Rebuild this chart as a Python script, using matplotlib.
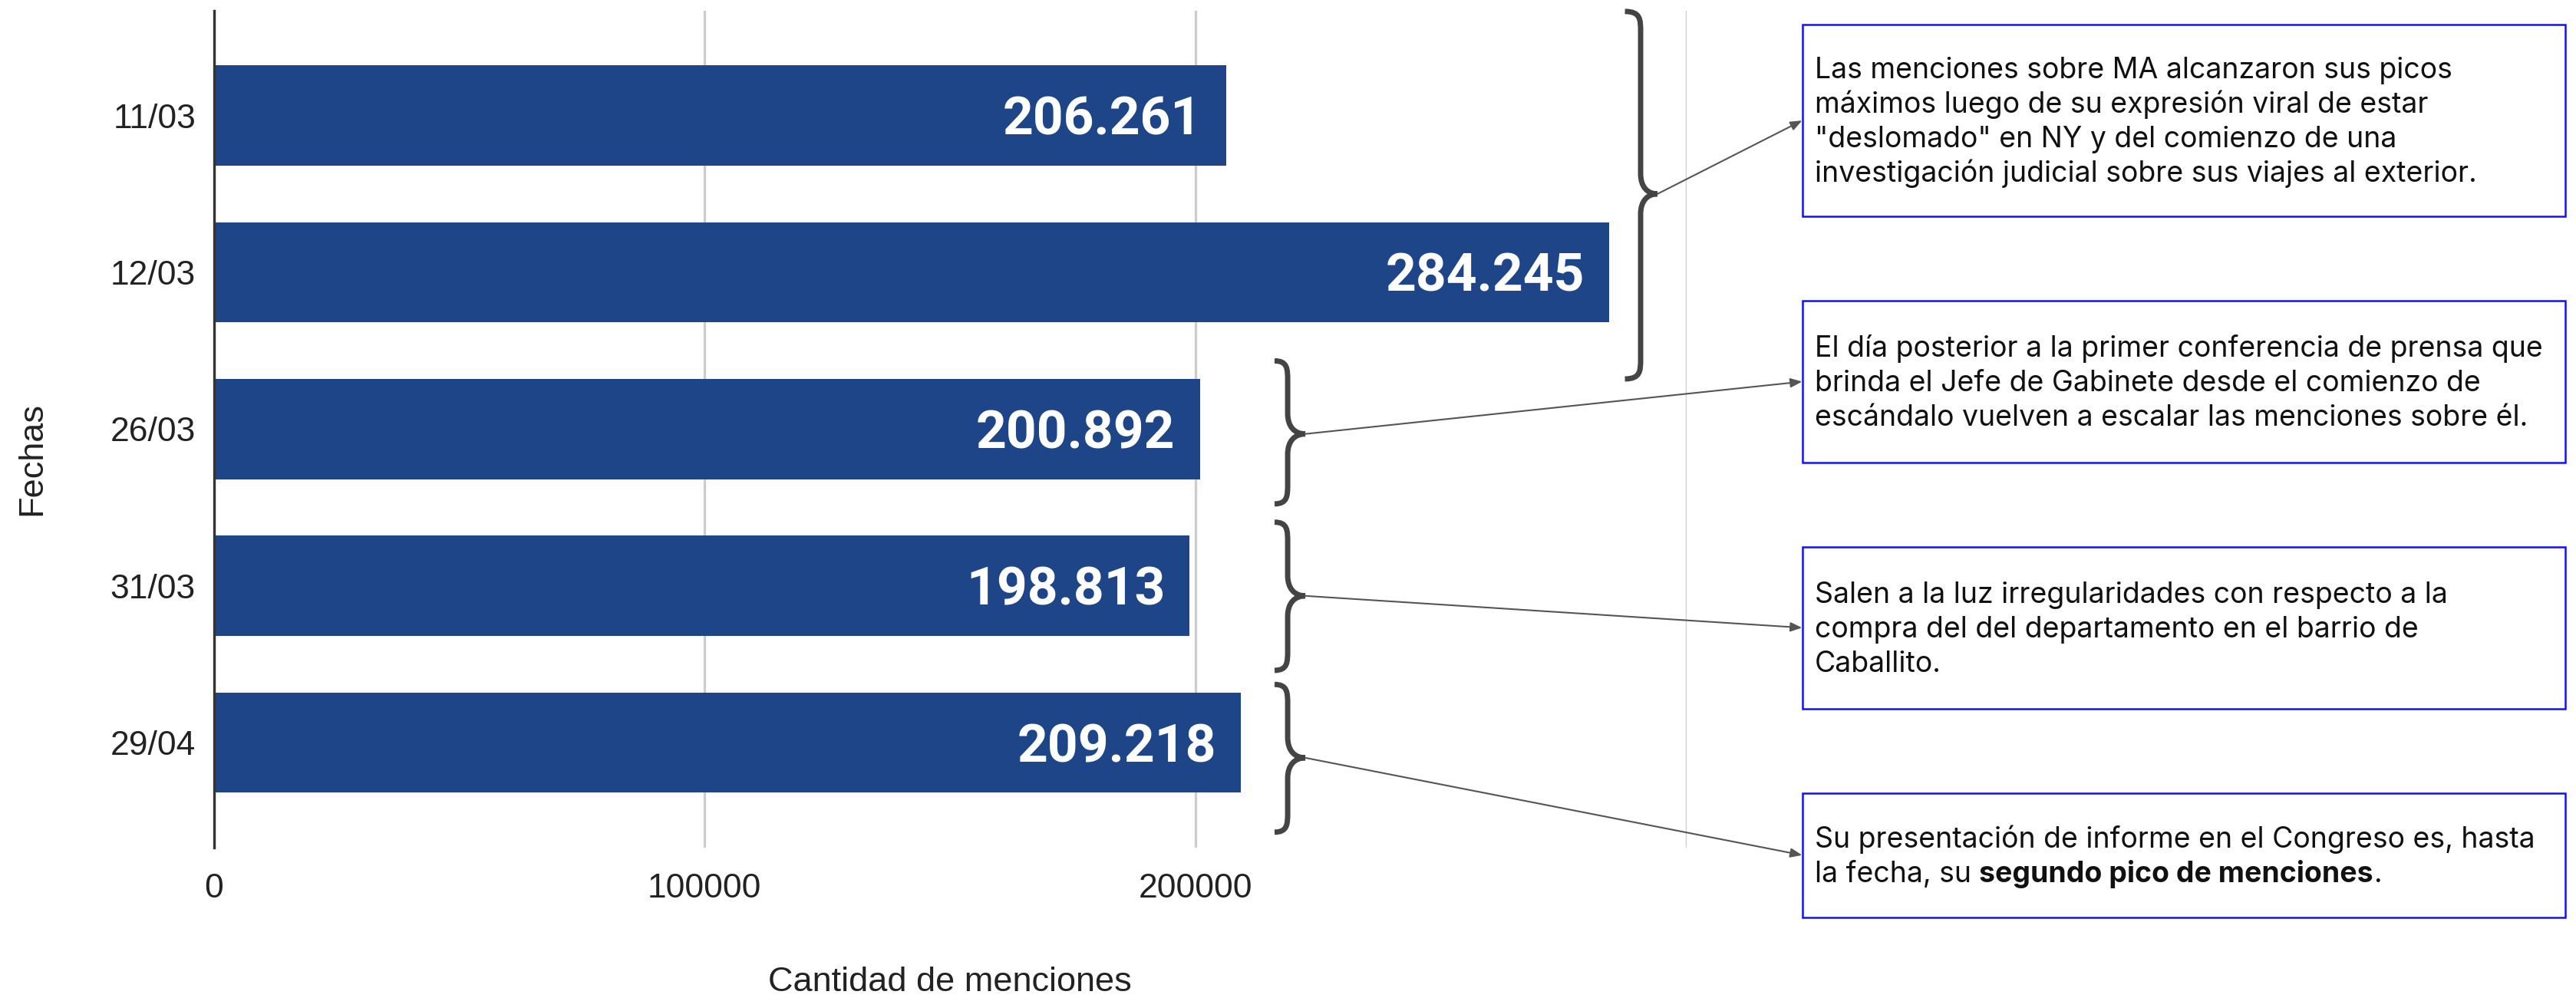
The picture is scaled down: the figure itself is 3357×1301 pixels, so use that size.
import matplotlib
matplotlib.use("Agg")
import matplotlib.pyplot as plt
from matplotlib.path import Path
from matplotlib.patches import PathPatch, Rectangle

# === Data ===
fechas = ["11/03", "12/03", "26/03", "31/03", "29/04"]
menciones = [206261, 284245, 200892, 198813, 209218]
etiquetas = ["206.261", "284.245", "200.892", "198.813", "209.218"]
x_ticks = [0, 100000, 200000, 300000]
x_tick_labels = ["0", "100000", "200000", ""]

notas = [
    ["Las menciones sobre MA alcanzaron sus picos",
     "máximos luego de su expresión viral de estar",
     "\"deslomado\" en NY y del comienzo de una",
     "investigación judicial sobre sus viajes al exterior."],
    ["El día posterior a la primer conferencia de prensa que",
     "brinda el Jefe de Gabinete desde el comienzo de",
     "escándalo vuelven a escalar las menciones sobre él."],
    ["Salen a la luz irregularidades con respecto a la",
     "compra del del departamento en el barrio de",
     "Caballito."],
    ["Su presentación de informe en el Congreso es, hasta",
     "la fecha, su"],
]
nota4_negrita = "segundo pico de menciones"

# === Layout (figure pixels, top-down) ===
W, H = 3357, 1301
BAR_COLOR = "#1d4587"
BRACE_COLOR = "#444444"
ARROW_COLOR = "#555555"
LABEL_FONT = "Liberation Sans"


def px(x, y):
    return x / W, 1 - y / H


fig = plt.figure(figsize=(W / 100, H / 100), dpi=100)
l, b = px(278.7, 1105)
r, t = px(2197.5, 13.7)
ax = fig.add_axes([l, b, r - l, t - b])

ypos = list(range(len(fechas)))
ax.barh(ypos, menciones, height=0.64, color=BAR_COLOR, zorder=2)
ax.set_xlim(0, 300000)
ax.set_ylim(4.67, -0.67)

ax.set_yticks(ypos)
ax.set_yticklabels(fechas, fontsize=32, family=LABEL_FONT, color="#222222")
ax.set_xticks(x_ticks)
ax.set_xticklabels(x_tick_labels, fontsize=32, family=LABEL_FONT, color="#222222")
ax.tick_params(axis="y", length=0, pad=17)
ax.tick_params(axis="x", length=0, pad=24)

ax.grid(axis="x", color="#cccccc", lw=2.4, zorder=0)
ax.set_axisbelow(True)
for s in ["top", "right", "bottom"]:
    ax.spines[s].set_visible(False)
ax.spines["left"].set_color("#333333")
ax.spines["left"].set_linewidth(2.4)
ax.spines["left"].set_zorder(3)

# value labels inside bars
for yi, v, lab in zip(ypos, menciones, etiquetas):
    ax.annotate(lab, xy=(v, yi), xytext=(-32, -25), textcoords="offset pixels",
                ha="right", va="baseline", color="white", fontsize=50,
                fontweight="bold", family="Roboto", zorder=4)

# axis titles
fig.text(*px(1238, 1292), "Cantidad de menciones", ha="center", va="baseline",
         fontsize=32.5, family=LABEL_FONT, color="#222222")
fig.text(*px(42, 598), "Fechas", rotation=90, ha="center", va="center",
         fontsize=32.5, family=LABEL_FONT, color="#222222")


# === Braces (data coords) ===
def brace(x0, xm, xtip, ytop, ybot, ytip, rr=0.13):
    verts = [
        (x0, ytop),
        (xm, ytop), (xm, ytop + rr * 0.4), (xm, ytop + rr),
        (xm, ytip - rr),
        (xm, ytip - rr * 0.35), (xm + (xtip - xm) * 0.4, ytip), (xtip, ytip),
        (xm + (xtip - xm) * 0.4, ytip), (xm, ytip + rr * 0.35), (xm, ytip + rr),
        (xm, ybot - rr),
        (xm, ybot - rr * 0.4), (xm, ybot), (x0, ybot),
    ]
    codes = [Path.MOVETO,
             Path.CURVE4, Path.CURVE4, Path.CURVE4,
             Path.LINETO,
             Path.CURVE4, Path.CURVE4, Path.CURVE4,
             Path.CURVE4, Path.CURVE4, Path.CURVE4,
             Path.LINETO,
             Path.CURVE4, Path.CURVE4, Path.CURVE4]
    ax.add_patch(PathPatch(Path(verts, codes), fill=False, edgecolor=BRACE_COLOR,
                           lw=5, clip_on=False, zorder=5, capstyle="butt"))


braces = [
    (287500, 290700, 294130, -0.664, 1.68, 0.50),
    (216120, 218790, 222380, 1.565, 2.477, 2.031),
    (216120, 218790, 222380, 2.594, 3.539, 3.064),
    (216120, 218790, 222380, 3.629, 4.571, 4.097),
]
for bx in braces:
    brace(*bx)

# === Note boxes ===
box_left, box_right = 2348.5, 3342.5
text_left = 2365
boxes_y = [(32.3, 282), (392, 603), (712.6, 924), (1033.5, 1196)]
line_gap = 45
cap = 25

# size the note font so the longest line of box 2 ends where it does in the source
renderer = fig.canvas.get_renderer()
probe = fig.text(0, 0, notas[1][0], fontsize=25, family="Inter")
w_probe = probe.get_window_extent(renderer).width
probe.remove()
note_size = 25 * (3314 - 2367) / w_probe

last_line = None
for k, ((y0, y1), lines) in enumerate(zip(boxes_y, notas)):
    bx0, by0 = px(box_left, y1)
    bx1, by1 = px(box_right, y0)
    fig.patches.append(Rectangle((bx0, by0), bx1 - bx0, by1 - by0,
                                 transform=fig.transFigure, fill=False,
                                 edgecolor="#1010ff", lw=1.8, zorder=6))
    yc = (y0 + y1) / 2
    n = len(lines)
    for i, line in enumerate(lines):
        yb = yc + (i - (n - 1) / 2) * line_gap + cap / 2
        last_line = fig.text(*px(text_left, yb), line, ha="left", va="baseline",
                             fontsize=note_size, family="Inter", color="#111111")
    # arrow from brace tip to box
    bxx = braces[k]
    ax.annotate("", xy=px(box_left, yc), xycoords="figure fraction",
                xytext=(bxx[2], bxx[5]), textcoords="data",
                arrowprops=dict(arrowstyle="-|>,head_length=0.45,head_width=0.18",
                                color=ARROW_COLOR, lw=1.5, shrinkA=0, shrinkB=0,
                                mutation_scale=20),
                annotation_clip=False, zorder=6)

# bold part of last note
bold = ax.annotate(nota4_negrita, xy=(1, 0), xycoords=last_line,
                   xytext=(10, 0), textcoords="offset pixels", ha="left", va="bottom",
                   fontsize=note_size, family="Inter", fontweight="bold",
                   color="#111111", annotation_clip=False)
ax.annotate(".", xy=(1, 0), xycoords=bold, ha="left", va="bottom",
            fontsize=note_size, family="Inter", color="#111111", annotation_clip=False)

fig.savefig("out.png", dpi=100, facecolor="white")
